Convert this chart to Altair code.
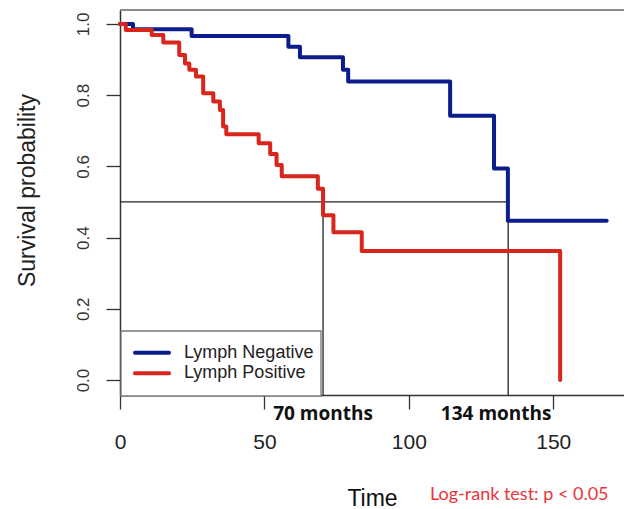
import altair as alt
import pandas as pd

# ---- data ----
groups = ["Lymph Negative", "Lymph Positive"]
colors = ["#0b1c8c", "#d8261c"]

neg_time = [0, 4.5, 24.8, 58.3, 62.3, 77.2, 79.0, 114.3, 129.5, 134.3, 168.5]
neg_surv = [1.0, 0.985, 0.966, 0.936, 0.906, 0.871, 0.838, 0.742, 0.594, 0.447, 0.447]

pos_time = [0, 2.0, 11.0, 15.0, 20.5, 22.5, 24.0, 26.3, 28.8, 32.3, 34.6, 35.7,
            36.8, 48.0, 52.0, 54.2, 56.0, 68.5, 70.3, 73.9, 83.7, 152.4]
pos_surv = [1.0, 0.983, 0.969, 0.948, 0.913, 0.889, 0.871, 0.852, 0.805, 0.782, 0.758, 0.712,
            0.690, 0.665, 0.635, 0.604, 0.572, 0.537, 0.463, 0.415, 0.362, 0.0]

median_level = 0.5
median_times = [70.3, 134.4]
median_labels = ["70 months", "134 months"]
x_ticks = [0, 50, 100, 150]
y_ticks = [0.0, 0.2, 0.4, 0.6, 0.8, 1.0]
note = "Log-rank test: p < 0.05"

# ---- layout ----
W, H = 504, 385
X_DOM = [0, 174.5]
Y_DOM = [-0.042, 1.039]
FONT = "Liberation Sans"

curves = pd.DataFrame({
    "time": neg_time + pos_time,
    "surv": neg_surv + pos_surv,
    "group": [groups[0]] * len(neg_time) + [groups[1]] * len(pos_time),
})
hline = pd.DataFrame({"x": [0], "x2": [median_times[1]], "y": [median_level]})
vlines = pd.DataFrame({"x": median_times, "y": [median_level] * 2, "y2": [Y_DOM[0]] * 2})
lab1 = pd.DataFrame({"x": [median_times[0]], "t": [median_labels[0]]})
lab2 = pd.DataFrame({"x": [median_times[1]], "t": [median_labels[1]]})

xs = alt.Scale(domain=X_DOM, nice=False, zero=False)
ys = alt.Scale(domain=Y_DOM, nice=False, zero=False)

x_axis = alt.Axis(
    values=x_ticks, title="Time", grid=False, labelFlush=False, labelOverlap=False,
    domainColor="#333", domainWidth=1.5, tickColor="#333", tickWidth=1.3, tickSize=14,
    labelFont=FONT, labelFontSize=21, labelColor="#222", labelBaseline="alphabetic", labelPadding=39,
    titleFont=FONT, titleFontSize=23, titleFontWeight="normal", titleColor="#111",
    titleX=W / 2, titleY=110, titleAlign="center", titleBaseline="alphabetic",
)
y_axis = alt.Axis(
    values=y_ticks, format=".1f", title="Survival probability", grid=False, labelFlush=False,
    labelOverlap=False, domainColor="#333", domainWidth=1.5, tickColor="#333", tickWidth=1.3,
    tickSize=14, labelFont=FONT, labelFontSize=17, labelColor="#333", labelAngle=270,
    labelAlign="center", labelBaseline="alphabetic", labelPadding=18,
    titleFont=FONT, titleFontSize=23, titleFontWeight="normal", titleColor="#222",
    titleAngle=270, titleX=-86, titleY=180, titleAlign="center", titleBaseline="alphabetic",
)

top_border = alt.Chart(hline).mark_rule(color="#666", strokeWidth=1.5).encode(
    x=alt.value(0), x2=alt.value(W), y=alt.value(0)
)

lines = alt.Chart(curves).mark_line(
    interpolate="step-after", strokeWidth=4, strokeCap="round", strokeJoin="round"
).encode(
    x=alt.X("time:Q", scale=xs, axis=x_axis),
    y=alt.Y("surv:Q", scale=ys, axis=y_axis),
    color=alt.Color("group:N", scale=alt.Scale(domain=groups, range=colors), legend=None),
    detail="group:N",
)

hrule = alt.Chart(hline).mark_rule(color="#222", strokeWidth=1.3).encode(
    x=alt.X("x:Q", scale=xs), x2="x2:Q", y=alt.Y("y:Q", scale=ys)
)
vrules = alt.Chart(vlines).mark_rule(color="#222", strokeWidth=1.3).encode(
    x=alt.X("x:Q", scale=xs), y=alt.Y("y:Q", scale=ys), y2="y2:Q"
)

# ---- legend box (drawn as marks) ----
leg_df = pd.DataFrame({"group": groups, "color": colors})
leg_box = alt.Chart(leg_df.head(1)).mark_rect(
    fill="white", stroke="#777", strokeWidth=1.3
).encode(x=alt.value(1), x2=alt.value(201), y=alt.value(321), y2=alt.value(386))
leg_items = []
for i, (g, c) in enumerate(zip(groups, colors)):
    row = leg_df.iloc[[i]]
    yy = 342.7 + i * 20.6
    leg_items.append(
        alt.Chart(row).mark_rule(color=c, strokeWidth=4, strokeCap="round").encode(
            x=alt.value(15), x2=alt.value(49), y=alt.value(yy)
        )
    )
    leg_items.append(
        alt.Chart(row).mark_text(
            font=FONT, fontSize=18, color="#222", align="left", baseline="middle"
        ).encode(x=alt.value(64), y=alt.value(yy), text="group:N")
    )

t1 = alt.Chart(lab1).mark_text(
    font="Open Sans", fontSize=19, fontWeight="bold", color="#111",
    align="center", baseline="alphabetic"
).encode(x=alt.X("x:Q", scale=xs), y=alt.value(410), text="t:N")
t2 = alt.Chart(lab2).mark_text(
    font="Open Sans", fontSize=19, fontWeight="bold", color="#111",
    align="center", baseline="alphabetic", dx=-12
).encode(x=alt.X("x:Q", scale=xs), y=alt.value(410), text="t:N")

note_df = pd.DataFrame({"t": [note]})
note_text = alt.Chart(note_df).mark_text(
    font="Lato", fontSize=18, color="#e8333a", align="left", baseline="middle"
).encode(x=alt.value(310), y=alt.value(485), text="t:N")

chart = alt.layer(
    top_border, vrules, hrule, lines, leg_box, *leg_items, t1, t2, note_text
).properties(
    width=W, height=H,
    padding={"left": 120, "top": 10, "right": 0, "bottom": 114},
    autosize=alt.AutoSizeParams(type="none"),
).configure_view(stroke=None)

chart.save("out.html", embed_options={"renderer": "svg", "actions": False})
